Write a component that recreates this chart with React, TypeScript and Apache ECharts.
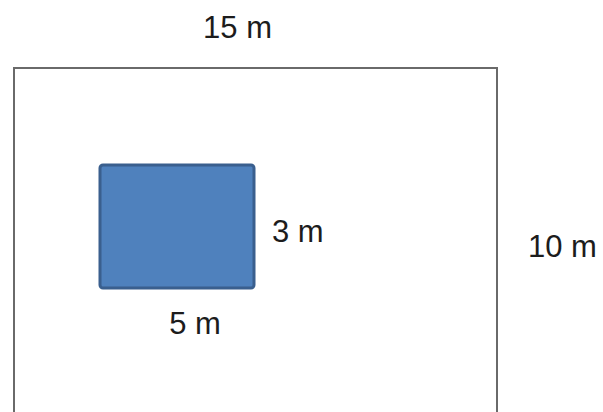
import React, { useEffect, useRef } from "react";
import * as echarts from "echarts";

// Diagram data: outer plot and inner bed (metres)
const shapeNames = ["plot", "bed"];
const shapeWidths = [15, 5];
const shapeHeights = [10, 3];
const unit = "m";

export default function App() {
  const ref = useRef<HTMLDivElement>(null);

  useEffect(() => {
    if (!ref.current) return;
    const chart = echarts.init(ref.current, undefined, { renderer: "svg" });
    const font = "Liberation Sans, Arial, sans-serif";
    const textStyle = (txt: string, x: number, y: number, align: string) => ({
      type: "text",
      style: {
        text: txt,
        x,
        y,
        fill: "#1c1c1c",
        font: `31px ${font}`,
        align,
        verticalAlign: "middle",
      },
    });

    const outerRender = (params: any, api: any) => {
      const w = api.value(2);
      const h = api.value(3);
      const p0 = api.coord([0, h]);
      const p1 = api.coord([w, 0]);
      // the picture is cropped: the outer plot continues below the bottom edge
      const crop = 40;
      return {
        type: "group",
        children: [
          {
            type: "rect",
            shape: { x: p0[0], y: p0[1], width: p1[0] - p0[0], height: p1[1] - p0[1] + crop },
            style: { fill: "#ffffff", stroke: "#6a6a6a", lineWidth: 2 },
          },
          textStyle(`${w} ${unit}`, (p0[0] + p1[0]) / 2 - 18, p0[1] - 41, "center"),
          textStyle(`${h} ${unit}`, p1[0] + 31, 246, "left"),
        ],
      };
    };

    const innerRender = (params: any, api: any) => {
      const w = api.value(2);
      const h = api.value(3);
      const p0 = api.coord([0, h]);
      const p1 = api.coord([w, 0]);
      return {
        type: "group",
        children: [
          {
            type: "rect",
            shape: { x: p0[0], y: p0[1], width: p1[0] - p0[0], height: p1[1] - p0[1], r: 3 },
            style: { fill: "#4f81bd", stroke: "#3a5f8e", lineWidth: 3 },
          },
          textStyle(`${h} ${unit}`, p1[0] + 18, (p0[1] + p1[1]) / 2 + 5, "left"),
          textStyle(`${w} ${unit}`, (p0[0] + p1[0]) / 2 + 18, p1[1] + 35, "center"),
        ],
      };
    };

    const hiddenAxis = (gridIndex: number, max: number) => ({
      type: "value",
      gridIndex,
      min: 0,
      max,
      show: false,
    });

    chart.setOption({
      animation: false,
      grid: [
        { left: 14, top: 68, right: 106, bottom: 0 },
        { left: 100, top: 165, width: 154, height: 123 },
      ],
      xAxis: [hiddenAxis(0, shapeWidths[0]), hiddenAxis(1, shapeWidths[1])],
      yAxis: [hiddenAxis(0, shapeHeights[0]), hiddenAxis(1, shapeHeights[1])],
      series: [
        {
          name: shapeNames[0],
          type: "custom",
          xAxisIndex: 0,
          yAxisIndex: 0,
          clip: false,
          renderItem: outerRender,
          data: [[0, 0, shapeWidths[0], shapeHeights[0]]],
        },
        {
          name: shapeNames[1],
          type: "custom",
          xAxisIndex: 1,
          yAxisIndex: 1,
          clip: false,
          z: 3,
          renderItem: innerRender,
          data: [[0, 0, shapeWidths[1], shapeHeights[1]]],
        },
      ],
    });
    return () => chart.dispose();
  }, []);

  return (
    <div
      ref={ref}
      style={{ position: "fixed", left: 0, top: 0, width: 603, height: 412, background: "#fff" }}
    />
  );
}
